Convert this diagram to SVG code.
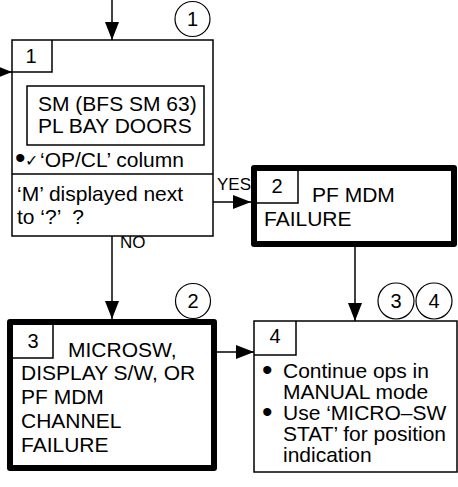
<svg xmlns="http://www.w3.org/2000/svg" width="458" height="487" viewBox="0 0 458 487">
<defs>
<style>
text{font-family:"Liberation Sans",Arial,sans-serif;fill:#000;}
.t{font-size:21px;}
.b{font-size:30px;}
.n{font-size:20px;}
.lbl{font-size:17px;}
.thin{fill:#fff;stroke:#000;stroke-width:1.5;}
.thick{fill:#fff;stroke:#000;stroke-width:6;stroke-linejoin:round;}
.nb{fill:none;stroke:#000;stroke-width:1.5;}
.circ{fill:none;stroke:#000;stroke-width:1.2;}
.conn{fill:none;stroke:#000;stroke-width:1.5;}
</style>
<marker id="ah" markerUnits="userSpaceOnUse" markerWidth="18" markerHeight="14" refX="18" refY="7" orient="auto">
<path d="M0,0 L18,7 L0,14 Z" fill="#000"/>
</marker>
</defs>
<rect width="458" height="487" fill="#fff"/>

<g id="connectors">
<path class="conn" d="M112,0 V40" marker-end="url(#ah)"/>
<path class="conn" d="M0,72 H12" marker-end="url(#ah)"/>
<path class="conn" d="M213,202 H251" marker-end="url(#ah)"/>
<path class="conn" d="M112,236 V319" marker-end="url(#ah)"/>
<path class="conn" d="M355,247 V321" marker-end="url(#ah)"/>
<path class="conn" d="M217,352 H254" marker-end="url(#ah)"/>
<text class="lbl" x="217" y="190">YES</text>
<text class="lbl" x="120" y="248">NO</text>
</g>

<g id="node1">
<rect class="thin" x="12" y="40" width="201" height="196"/>
<path class="nb" d="M12,72 H52 V40"/>
<text class="n" x="31" y="63" text-anchor="middle">1</text>
<rect class="nb" x="27" y="86" width="177" height="59"/>
<text class="t" x="38" y="111">SM (BFS SM 63)</text>
<text class="t" x="38" y="133">PL BAY DOORS</text>
<text class="b" x="15" y="168">•</text>
<text x="25" y="166" font-family="DejaVu Sans" font-size="16" font-weight="300">✓</text>
<text class="t" x="40" y="167">‘OP/CL’ column</text>
<path class="nb" d="M12,174 H213"/>
<text class="t" x="17" y="201">‘M’ displayed next</text>
<text class="t" x="17" y="224" xml:space="preserve">to ‘?’  ?</text>
</g>

<g id="node2">
<rect class="thick" x="254" y="168" width="200" height="76"/>
<path class="nb" d="M257,203 H298 V171"/>
<text class="n" x="277" y="193" text-anchor="middle">2</text>
<text class="t" x="312" y="202">PF MDM</text>
<text class="t" x="264" y="226">FAILURE</text>
</g>

<g id="node3">
<rect class="thick" x="10" y="322" width="204" height="146"/>
<path class="nb" d="M13,358 H53 V325"/>
<text class="n" x="33" y="348" text-anchor="middle">3</text>
<text class="t" x="68" y="357">MICROSW,</text>
<text class="t" x="21" y="380">DISPLAY S/W, OR</text>
<text class="t" x="21" y="404">PF MDM</text>
<text class="t" x="21" y="428">CHANNEL</text>
<text class="t" x="21" y="452">FAILURE</text>
</g>

<g id="node4">
<rect class="thin" x="254" y="321" width="203" height="151"/>
<path class="nb" d="M254,355 H296 V321"/>
<text class="n" x="275" y="343" text-anchor="middle">4</text>
<text class="b" x="262" y="380">•</text>
<text class="t" x="283" y="378">Continue ops in</text>
<text class="t" x="283" y="399">MANUAL mode</text>
<text class="b" x="262" y="422">•</text>
<text class="t" x="283" y="420">Use ‘MICRO–SW</text>
<text class="t" x="283" y="441">STAT’ for position</text>
<text class="t" x="283" y="462">indication</text>
</g>

<g id="circles">
<circle class="circ" cx="192.5" cy="19" r="17.5"/>
<text class="n" x="192.5" y="26" text-anchor="middle">1</text>
<circle class="circ" cx="193" cy="301" r="17.5"/>
<text class="n" x="193" y="308" text-anchor="middle">2</text>
<circle class="circ" cx="396" cy="301" r="18"/>
<text class="n" x="396" y="308" text-anchor="middle">3</text>
<circle class="circ" cx="434" cy="301" r="18"/>
<text class="n" x="434" y="308" text-anchor="middle">4</text>
</g>
</svg>
